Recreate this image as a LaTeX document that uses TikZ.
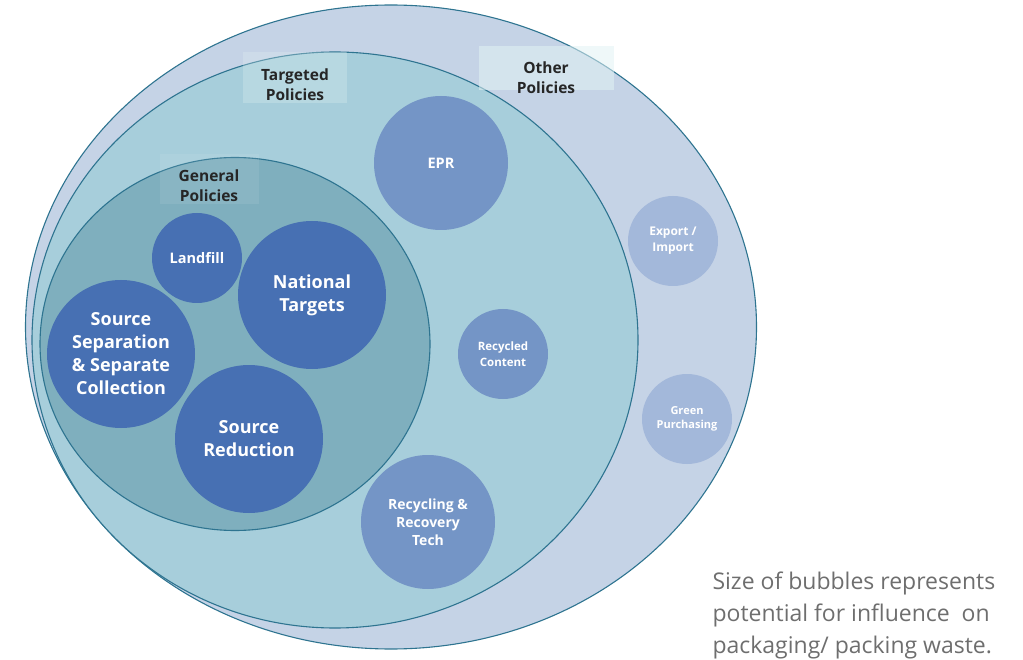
\documentclass[tikz,border=0pt]{standalone}
\usepackage{fontspec}
\setmainfont{Open Sans}
\usetikzlibrary{shapes.geometric}

\definecolor{ringline}{HTML}{2E7490}
\definecolor{otherfill}{HTML}{C5D3E6}
\definecolor{targetfill}{HTML}{A7CEDB}
\definecolor{generalfill}{HTML}{7FAFBE}
\definecolor{strongbub}{HTML}{4770B3}
\definecolor{midbub}{HTML}{7495C6}
\definecolor{lightbub}{HTML}{A3B8DA}
\definecolor{tagtint}{HTML}{E2F2F4}
\definecolor{captiongrey}{HTML}{6E6E6E}

\begin{document}
\begin{tikzpicture}[x=1pt,y=-1pt,
		ring/.style={ellipse, draw=ringline, line width=1.1pt, inner sep=0pt},
		bubble/.style={circle, inner sep=0pt, text=white, align=center},
		tagbox/.style={fill=tagtint, fill opacity=0.28, inner sep=0pt},
		tagtext/.style={align=center, text=black!85, font=\bfseries\fontsize{15.5}{20}\selectfont}]
	\useasboundingbox (0,0) rectangle (1023,660);

	\node[ring, fill=otherfill, minimum width=731pt, minimum height=644pt] (other) at (391,327) {};
	\node[ring, fill=targetfill, minimum width=606pt, minimum height=576pt] (targeted) at (335,340) {};
	\node[ring, fill=generalfill, minimum width=390pt, minimum height=373pt] (general) at (235,344) {};

	\node[tagbox, minimum width=104pt, minimum height=51pt] (targetedbox) at (295,78) {};
	\node[tagbox, fill opacity=0.55, minimum width=135pt, minimum height=44pt] (otherbox) at (546,68) {};
	\node[tagbox, fill opacity=0.1, minimum width=99pt, minimum height=50pt] (generalbox) at (209,179) {};
	\node[tagtext] (targetedtag) at (295,85) {Targeted\\Policies};
	\node[tagtext] (othertag) at (546,78) {Other\\Policies};
	\node[tagtext] (generaltag) at (209,186) {General\\Policies};

	\node[bubble, fill=strongbub, minimum size=90pt, font=\bfseries\fontsize{14.5}{19}\selectfont] (landfill) at (197,258) {Landfill};
	\node[bubble, fill=strongbub, minimum size=148pt, font=\bfseries\fontsize{18}{23}\selectfont] (national) at (312,295) {National\\Targets};
	\node[bubble, fill=strongbub, minimum size=148pt, font=\bfseries\fontsize{18}{23}\selectfont] (separation) at (121,354) {Source\\Separation\\\& Separate\\Collection};
	\node[bubble, fill=strongbub, minimum size=148pt, font=\bfseries\fontsize{18}{23}\selectfont] (reduction) at (249,439) {Source\\Reduction};

	\node[bubble, fill=midbub, minimum size=134pt, font=\bfseries\fontsize{14.5}{19}\selectfont] (epr) at (441,163) {EPR};
	\node[bubble, fill=midbub, minimum size=90pt, font=\bfseries\fontsize{11.5}{16}\selectfont] (recycled) at (503,354) {Recycled\\Content};
	\node[bubble, fill=midbub, minimum size=134pt, font=\bfseries\fontsize{14}{18}\selectfont] (recovery) at (428,522) {Recycling \&\\Recovery\\Tech};

	\node[bubble, fill=lightbub, minimum size=90pt, font=\bfseries\fontsize{12}{16}\selectfont] (export) at (673,241) {Export /\\Import};
	\node[bubble, fill=lightbub, minimum size=90pt, font=\bfseries\fontsize{11}{14}\selectfont] (green) at (687,419) {Green\\Purchasing};

	\node[anchor=west, align=left, text=captiongrey, font=\fontsize{23}{32}\selectfont] (caption) at (709,615) {Size of bubbles represents\\potential for influence\ \ on\\packaging/ packing waste.};
\end{tikzpicture}
\end{document}
